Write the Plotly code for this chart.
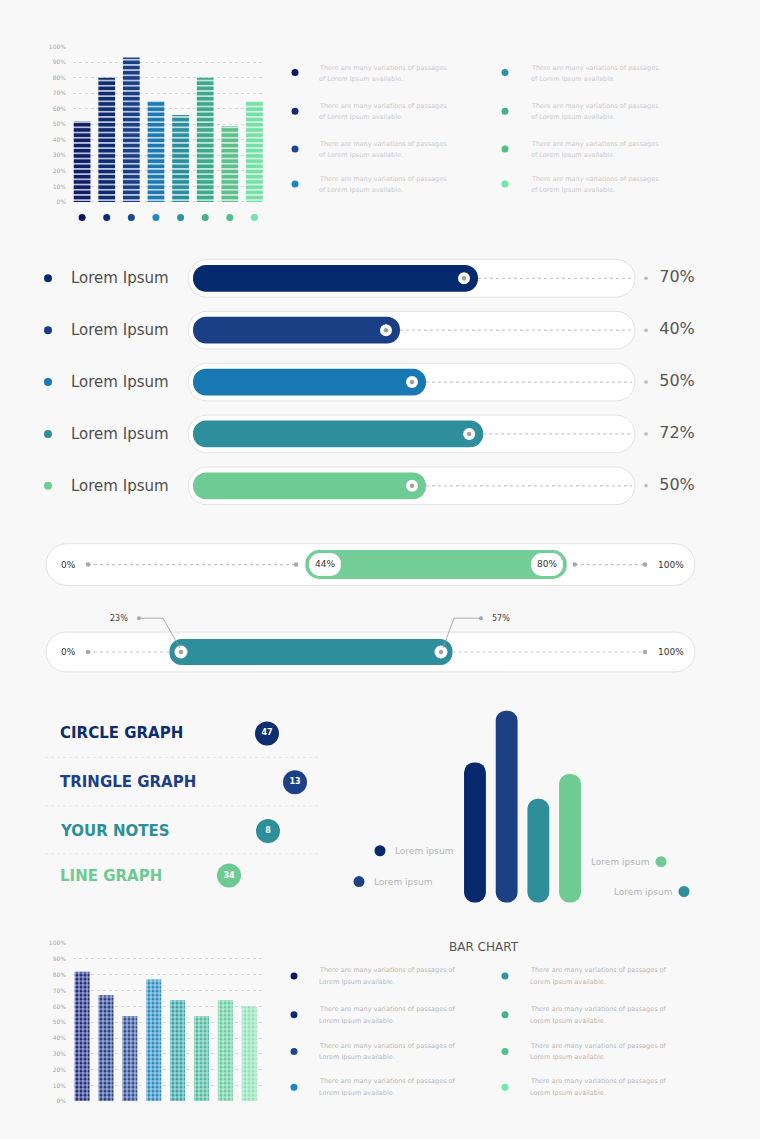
import plotly.graph_objects as go

W, H = 760, 1139
BG = "#f8f8f8"
FONT = "DejaVu Sans"

# ---------------- data ----------------
pct_ticks = [0, 10, 20, 30, 40, 50, 60, 70, 80, 90, 100]
pct_labels = [f"{t}%" for t in pct_ticks]

top_values = [52, 80, 93, 65, 56, 80, 49, 65]
top_colors = ["#101e68", "#0d2b70", "#193f86", "#1b79b4", "#2a8f9d", "#3ba98b", "#5cc08d", "#74e2a4"]

legend_colors = ["#0b155e", "#0c2a70", "#1c4690", "#1f85c5", "#2a94a0", "#45b08f", "#52c185", "#6de8a6"]
top_legend_lines = ["There are many variations of passages", "of Lorem Ipsum available."]

progress_labels = ["Lorem Ipsum", "Lorem Ipsum", "Lorem Ipsum", "Lorem Ipsum", "Lorem Ipsum"]
progress_values = [70, 40, 50, 72, 50]
progress_colors = ["#052a6e", "#1b3f85", "#1778b2", "#2e8e9b", "#6fcb94"]

range_a = [44, 80]
range_b = [23, 57]
range_colors = ["#72cd96", "#2e8e9b"]

list_labels = ["CIRCLE GRAPH", "TRINGLE GRAPH", "YOUR NOTES", "LINE GRAPH"]
list_numbers = [47, 13, 8, 34]
list_colors = ["#0d2d6e", "#1c3f86", "#2e8f9b", "#6dca92"]

vbar_values = [73, 100, 54, 67]
vbar_colors = ["#08296c", "#1b4084", "#2e8f9b", "#6fcb94"]
vbar_labels = ["Lorem ipsum", "Lorem ipsum", "Lorem ipsum", "Lorem ipsum"]

bottom_values = [82, 67, 54, 77, 64, 54, 64, 60]
bottom_colors = ["#1c2a84", "#223e8c", "#2f4f98", "#2a8cc4", "#33a5aa", "#4dbba0", "#66cfa0", "#8ce4b8"]
bottom_title = "BAR CHART"
bottom_legend_lines = ["There are many variations of passages of", "Lorem Ipsum available."]


# ---------------- helpers ----------------
def fx(p):
    return p / W


def fy(p):
    return 1 - p / H


fig = go.Figure()
L = dict(width=W, height=H, margin=dict(l=0, r=0, t=0, b=0), paper_bgcolor=BG,
         plot_bgcolor="rgba(0,0,0,0)", showlegend=False, barmode="overlay",
         font=dict(family=FONT))
ann = []
shapes = []


def text(x, y, s, size, color, xanchor="left", bold=False):
    ann.append(dict(x=fx(x), y=fy(y), xref="paper", yref="paper", text=s, showarrow=False,
                    xanchor=xanchor, yanchor="middle",
                    font=dict(size=size, color=color, family=FONT, weight=700 if bold else 400)))


def capsule(x0, x1, yc, h, fill="white", line="#e2e2e2"):
    r = h / 2
    k = 0.5523 * r
    pts = [("M", [(x0 + r, yc - r)]), ("L", [(x1 - r, yc - r)]),
           ("C", [(x1 - r + k, yc - r), (x1, yc - k), (x1, yc)]),
           ("C", [(x1, yc + k), (x1 - r + k, yc + r), (x1 - r, yc + r)]),
           ("L", [(x0 + r, yc + r)]),
           ("C", [(x0 + r - k, yc + r), (x0, yc + k), (x0, yc)]),
           ("C", [(x0, yc - k), (x0 + r - k, yc - r), (x0 + r, yc - r)])]
    path = ""
    for cmd, ps in pts:
        path += cmd + " " + " ".join(f"{fx(px):.5f},{fy(py):.5f}" for px, py in ps) + " "
    path += "Z"
    shapes.append(dict(type="path", path=path, xref="paper", yref="paper", layer="below",
                       fillcolor=fill, line=dict(color=line, width=1)))


def hline(x0, x1, y, color="#e6e6e6"):
    shapes.append(dict(type="line", x0=fx(x0), x1=fx(x1), y0=fy(y), y1=fy(y), xref="paper",
                       yref="paper", layer="below", line=dict(color=color, width=1, dash="dot")))


def hcapsule(xa, ya, cats, lefts, rights, width, colors):
    """Floating bar (base set) with rounded ends."""
    fig.add_trace(go.Bar(y=cats, x=[b - a for a, b in zip(lefts, rights)], base=lefts,
                         orientation="h", width=width, xaxis=xa, yaxis=ya,
                         marker=dict(color=colors, line=dict(width=0), cornerradius="50%")))


def vcapsule(xa, ya, cats, lows, highs, width, colors):
    fig.add_trace(go.Bar(x=cats, y=[b - a for a, b in zip(lows, highs)], base=lows,
                         width=width, xaxis=xa, yaxis=ya,
                         marker=dict(color=colors, line=dict(width=0), cornerradius="50%")))


def patterned_bars(xa, ya, values, colors, width, shape, size, solidity):
    # one trace per bar so the pattern keeps explicit fg/bg colours
    for i, (v, c) in enumerate(zip(values, colors)):
        fig.add_trace(go.Bar(x=[i], y=[v], width=width, xaxis=xa, yaxis=ya,
                             marker=dict(color=c, line=dict(width=0),
                                         pattern=dict(shape=shape, size=size, solidity=solidity,
                                                      fgcolor="#f6f6f6", bgcolor=c,
                                                      fgopacity=1, fillmode="replace"))))


# pixel overlay axis for decorative markers
L["xaxis7"] = dict(domain=[0, 1], range=[0, W], visible=False, anchor="y7", fixedrange=True)
L["yaxis7"] = dict(domain=[0, 1], range=[H, 0], visible=False, anchor="x7", fixedrange=True)


def pxdots(xs, ys, colors, size, **kw):
    fig.add_trace(go.Scatter(x=xs, y=ys, mode="markers", xaxis="x7", yaxis="y7", cliponaxis=False,
                             marker=dict(size=size, color=colors, line=dict(width=0)), **kw))


# ---------------- 1. top dashed bar chart ----------------
L["xaxis"] = dict(domain=[fx(73), fx(265)], range=[-0.37, 7.43], visible=False, anchor="y")
L["yaxis"] = dict(domain=[fy(221), fy(43)], range=[-14, 100], anchor="x", tickvals=pct_ticks,
                  ticktext=pct_labels, showgrid=True, gridcolor="#d6d6d6", griddash="dot",
                  gridwidth=1, zeroline=False, showline=False, ticks="",
                  tickfont=dict(size=6, color="#a8a8a8"), ticklabelstandoff=6)
n = len(top_values)
patterned_bars("x", "y", top_values, top_colors, 0.68, "-", 5.2, 0.25)
fig.add_trace(go.Scatter(x=list(range(n)), y=[-10] * n, mode="markers", xaxis="x", yaxis="y",
                         cliponaxis=False, marker=dict(size=7, color=legend_colors)))

# top legend
top_leg_y = [69, 108, 146, 181]
for i, c in enumerate(legend_colors):
    col, row = divmod(i, 4)
    dx = 295 if col == 0 else 505
    tx = 317 if col == 0 else 529
    yy = top_leg_y[row]
    pxdots([dx], [yy], [c], 7)
    text(tx, yy - 5, top_legend_lines[0], 6.5, "#cbcbcb")
    text(tx, yy + 6, top_legend_lines[1], 6.5, "#cbcbcb")

# ---------------- 2. progress bars ----------------
pa, pb = 296.0, 2.6          # pixel = pa + pb * value
row0, rstep = 276.0, 52.2
nrow = len(progress_values)
L["xaxis2"] = dict(domain=[fx(188), fx(700)], range=[(188 - pa) / pb, (700 - pa) / pb],
                   visible=False, anchor="y2")
L["yaxis2"] = dict(domain=[fy(row0 + (nrow - 0.5) * rstep), fy(row0 - 0.5 * rstep)],
                   range=[nrow - 0.5, -0.5], visible=False, anchor="x2")
rows = list(range(nrow))
for i in rows:
    capsule(188, 635, row0 + i * rstep, 38)
thick = 27
start_v = (193 - pa) / pb
hcapsule("x2", "y2", rows, [start_v] * nrow, progress_values, thick / rstep, progress_colors)
track_end = (632 - pa) / pb
for i, v in enumerate(progress_values):
    fig.add_trace(go.Scatter(x=[v, track_end], y=[i, i], mode="lines", xaxis="x2", yaxis="y2",
                             line=dict(color="#c9c9c9", width=1.2, dash="dot")))
knob_off = 14 / pb
fig.add_trace(go.Scatter(y=rows, x=[v - knob_off for v in progress_values], mode="markers",
                         xaxis="x2", yaxis="y2", marker=dict(size=12, color="white")))
fig.add_trace(go.Scatter(y=rows, x=[v - knob_off for v in progress_values], mode="markers",
                         xaxis="x2", yaxis="y2", marker=dict(size=4.5, color="#a0a0a0")))
fig.add_trace(go.Scatter(y=rows, x=[(646 - pa) / pb] * nrow, mode="markers", xaxis="x2", yaxis="y2",
                         marker=dict(size=3.5, color="#b8b8b8")))
fig.add_trace(go.Scatter(y=rows, x=[(677 - pa) / pb] * nrow, mode="text", xaxis="x2", yaxis="y2",
                         text=[f"{v}%" for v in progress_values],
                         textfont=dict(size=16, color="#555555", family=FONT)))
for i, (lab, c) in enumerate(zip(progress_labels, progress_colors)):
    yy = row0 + i * rstep
    pxdots([48], [yy], [c], 8)
    text(69, yy, lab, 15, "#4e4e4e")

# ---------------- 3. range bars ----------------
# row A
a1, b1 = 53.7, 6.167
L["xaxis3"] = dict(domain=[fx(46), fx(695)], range=[(46 - a1) / b1, (695 - a1) / b1],
                   visible=False, anchor="y3")
L["yaxis3"] = dict(domain=[fy(585), fy(543)], range=[-0.5, 0.5], visible=False, anchor="x3")
capsule(46, 695, 564, 42)
lo, hi = range_a
pad = 3.2
fig.add_trace(go.Scatter(x=[(88 - a1) / b1, lo - 4.7], y=[0, 0], mode="lines+markers", xaxis="x3",
                         yaxis="y3", line=dict(color="#c4c4c4", width=1.2, dash="dot"),
                         marker=dict(size=4.5, color="#a8a8a8")))
fig.add_trace(go.Scatter(x=[hi + 4.5, (645 - a1) / b1], y=[0, 0], mode="lines+markers", xaxis="x3",
                         yaxis="y3", line=dict(color="#c4c4c4", width=1.2, dash="dot"),
                         marker=dict(size=4.5, color="#a8a8a8")))
hcapsule("x3", "y3", [0], [lo - pad], [hi + pad], 29 / 42, [range_colors[0]])
hw = 16 / b1
hcapsule("x3", "y3", [0, 0], [lo - hw, hi - hw], [lo + hw, hi + hw], 23 / 42, ["white", "white"])
fig.add_trace(go.Scatter(x=[lo, hi], y=[0, 0], mode="text", xaxis="x3", yaxis="y3",
                         text=[f"{lo}%", f"{hi}%"],
                         textfont=dict(size=9, color="#333333", family=FONT)))
text(68, 564, "0%", 9, "#333333", "center")
text(671, 564, "100%", 9, "#333333", "center")

# row B
a2, b2 = 5.1, 7.647
L["xaxis4"] = dict(domain=[fx(46), fx(695)], range=[(46 - a2) / b2, (695 - a2) / b2],
                   visible=False, anchor="y4")
L["yaxis4"] = dict(domain=[fy(671), fy(633)], range=[-0.5, 0.5], visible=False, anchor="x4")
capsule(46, 695, 652, 40)
lo, hi = range_b
pad2 = 1.5
fig.add_trace(go.Scatter(x=[(88 - a2) / b2, lo - pad2], y=[0, 0], mode="lines", xaxis="x4",
                         yaxis="y4", line=dict(color="#c4c4c4", width=1.2, dash="dot")))
fig.add_trace(go.Scatter(x=[hi + pad2, (645 - a2) / b2], y=[0, 0], mode="lines", xaxis="x4",
                         yaxis="y4", line=dict(color="#c4c4c4", width=1.2, dash="dot")))
fig.add_trace(go.Scatter(x=[(88 - a2) / b2, (645 - a2) / b2], y=[0, 0], mode="markers", xaxis="x4",
                         yaxis="y4", marker=dict(size=4.5, color="#a8a8a8")))
hcapsule("x4", "y4", [0], [lo - pad2], [hi + pad2], 26 / 38, [range_colors[1]])
fig.add_trace(go.Scatter(x=[lo, hi], y=[0, 0], mode="markers", xaxis="x4", yaxis="y4",
                         marker=dict(size=13, color="white")))
fig.add_trace(go.Scatter(x=[lo, hi], y=[0, 0], mode="markers", xaxis="x4", yaxis="y4",
                         marker=dict(size=4.5, color="#a0a0a0")))
klo, khi = a2 + b2 * lo, a2 + b2 * hi
fig.add_trace(go.Scatter(x=[klo - 42, klo - 18, klo - 1], y=[618, 618, 648], mode="lines",
                         xaxis="x7", yaxis="y7", line=dict(color="#9a9a9a", width=0.8)))
fig.add_trace(go.Scatter(x=[khi + 40, khi + 13, khi + 2], y=[618, 618, 648], mode="lines",
                         xaxis="x7", yaxis="y7", line=dict(color="#9a9a9a", width=0.8)))
pxdots([klo - 42, khi + 40], [618, 618], ["#a8a8a8", "#a8a8a8"], 4)
text(klo - 62, 618, f"{lo}%", 8, "#444444", "center")
text(khi + 60, 618, f"{hi}%", 8, "#444444", "center")
text(68, 652, "0%", 9, "#333333", "center")
text(671, 652, "100%", 9, "#333333", "center")

# ---------------- 4. list + vertical bars ----------------
list_y = [734, 783, 832, 877]
circle_x = [267, 295, 268, 229]
for lab, c, yy in zip(list_labels, list_colors, list_y):
    text(58, yy, lab, 15, c, bold=True)
fig.add_trace(go.Scatter(x=circle_x, y=list_y, mode="markers+text", xaxis="x7", yaxis="y7",
                         text=[str(v) for v in list_numbers], textposition="middle center",
                         textfont=dict(size=8, color="white", family=FONT, weight=700),
                         marker=dict(size=24, color=list_colors, line=dict(width=0))))
for yy in [758, 807, 855]:
    hline(45, 320, yy)

L["xaxis5"] = dict(domain=[fx(455), fx(590)], range=[-0.63, 3.63], visible=False, anchor="y5")
L["yaxis5"] = dict(domain=[fy(910), fy(700)], range=[-3.11, 105.7], visible=False, anchor="x5")
nv = len(vbar_values)
vcapsule("x5", "y5", list(range(nv)), [0] * nv, vbar_values, 0.69, vbar_colors)
pxdots([380, 359, 661, 684], [852, 883, 863, 893],
       [vbar_colors[0], vbar_colors[1], vbar_colors[3], vbar_colors[2]], 11)
text(393, 852, vbar_labels[0], 9, "#b4b4b4")
text(372, 883, vbar_labels[1], 9, "#b4b4b4")
text(651, 863, vbar_labels[2], 9, "#b4b4b4", "right")
text(674, 893, vbar_labels[3], 9, "#b4b4b4", "right")

# ---------------- 5. bottom dotted bar chart ----------------
L["xaxis6"] = dict(domain=[fx(73), fx(265)], range=[-0.38, 7.66], visible=False, anchor="y6")
L["yaxis6"] = dict(domain=[fy(1104), fy(945)], range=[0, 100], anchor="x6", tickvals=pct_ticks,
                   ticktext=pct_labels, showgrid=True, gridcolor="#d6d6d6", griddash="dot",
                   gridwidth=1, zeroline=False, showline=False, ticks="",
                   tickfont=dict(size=6, color="#a8a8a8"), ticklabelstandoff=6)
patterned_bars("x6", "y6", bottom_values, bottom_colors, 0.63, "+", 4, 0.32)

text(484, 949, bottom_title, 12, "#555555", "center")
bot_leg_y = [978, 1017, 1054, 1090]
for i, c in enumerate(legend_colors):
    col, row = divmod(i, 4)
    dx = 294 if col == 0 else 505
    tx = 317 if col == 0 else 528
    yy = bot_leg_y[row]
    pxdots([dx], [yy], [c], 7)
    text(tx, yy - 6, bottom_legend_lines[0], 6.5, "#b8b8b8")
    text(tx, yy + 6, bottom_legend_lines[1], 6.5, "#b8b8b8")

L["annotations"] = ann
L["shapes"] = shapes
fig.update_layout(**L)
fig.update_traces(hoverinfo="skip")
fig.write_html("out.html", config={"displayModeBar": False},
               post_script="document.body.style.margin='0px';document.body.style.overflow='hidden';")
